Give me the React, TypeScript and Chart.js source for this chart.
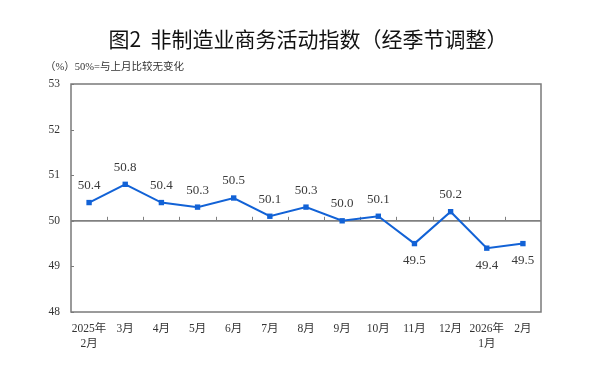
import React, { useEffect, useRef } from "react";
import { Chart, registerables } from "chart.js";

Chart.register(...registerables);

const categories: (string | string[])[] = [
  ["2025年", "2月"], "3月", "4月", "5月", "6月", "7月", "8月", "9月", "10月", "11月", "12月", ["2026年", "1月"], "2月",
];
const values: number[] = [50.4, 50.8, 50.4, 50.3, 50.5, 50.1, 50.3, 50.0, 50.1, 49.5, 50.2, 49.4, 49.5];
const labelBelow: boolean[] = [false, false, false, false, false, false, false, false, false, true, false, true, true];
const yTicks: number[] = [48, 49, 50, 51, 52, 53];
const titleText = "图2  非制造业商务活动指数（经季节调整）";
const subtitleText = "（%）50%=与上月比较无变化";

const SERIF = '"Liberation Serif", "Times New Roman", "Noto Sans CJK SC", serif';
const SANS = '"Noto Sans CJK SC", "Noto Sans", sans-serif';

const decorPlugin = {
  id: "decor",
  beforeDatasetsDraw(chart: any) {
    const { ctx, chartArea: a, scales } = chart;
    const y = scales.y;
    const x = scales.x;
    ctx.save();
    ctx.strokeStyle = "#7a7a7a";
    ctx.lineWidth = 1.5;
    ctx.strokeRect(a.left, a.top, a.right - a.left, a.bottom - a.top);
    ctx.lineWidth = 1;
    ctx.beginPath();
    yTicks.forEach((v) => {
      const py = Math.round(y.getPixelForValue(v)) + 0.5;
      ctx.moveTo(a.left, py);
      ctx.lineTo(a.left + 3, py);
    });
    ctx.stroke();
    const y50 = y.getPixelForValue(50);
    ctx.strokeStyle = "#808080";
    ctx.lineWidth = 1.8;
    ctx.beginPath();
    ctx.moveTo(a.left, y50);
    ctx.lineTo(a.right, y50);
    ctx.stroke();
    ctx.lineWidth = 1;
    ctx.beginPath();
    for (let i = 1; i < categories.length; i++) {
      const px = Math.round((x.getPixelForValue(i - 1) + x.getPixelForValue(i)) / 2) + 0.5;
      ctx.moveTo(px, y50);
      ctx.lineTo(px, y50 - 4);
    }
    ctx.stroke();
    ctx.restore();
  },
  afterDatasetsDraw(chart: any) {
    const { ctx } = chart;
    const meta = chart.getDatasetMeta(0);
    ctx.save();
    ctx.font = `13px ${SERIF}`;
    ctx.fillStyle = "#3a3a3a";
    ctx.textAlign = "center";
    ctx.textBaseline = "middle";
    meta.data.forEach((pt: any, i: number) => {
      const dy = labelBelow[i] ? 17 : -17;
      ctx.fillText(values[i].toFixed(1), pt.x, pt.y + dy);
    });
    ctx.fillStyle = "#111111";
    ctx.font = `21px ${SANS}`;
    ctx.textAlign = "center";
    ctx.fillText(titleText, 308, 39);
    ctx.fillStyle = "#333333";
    ctx.font = `10.5px ${SERIF}`;
    ctx.textAlign = "left";
    ctx.fillText(subtitleText, 45, 67);
    ctx.restore();
  },
};

export default function App() {
  const ref = useRef<HTMLCanvasElement>(null);
  useEffect(() => {
    const chart = new Chart(ref.current as HTMLCanvasElement, {
      type: "line",
      data: {
        labels: categories,
        datasets: [
          {
            data: values,
            borderColor: "#1262d6",
            backgroundColor: "#1262d6",
            borderWidth: 2,
            pointStyle: "rect",
            pointRadius: 3.8,
            pointBorderWidth: 0,
            tension: 0,
          },
        ],
      },
      options: {
        animation: false,
        responsive: false,
        maintainAspectRatio: false,
        layout: { padding: { left: 0, top: 84, right: 59, bottom: 0 } },
        plugins: { legend: { display: false }, tooltip: { enabled: false }, title: { display: false } },
        scales: {
          x: {
            type: "category",
            offset: true,
            grid: { display: false, drawTicks: false },
            border: { display: false },
            ticks: {
              color: "#333333",
              font: { family: SERIF, size: 11.5, lineHeight: 1.25 },
              padding: 10,
              maxRotation: 0,
              autoSkip: false,
            },
            afterFit: (s: any) => {
              s.height = 59;
            },
          },
          y: {
            min: 48,
            max: 53,
            afterBuildTicks: (s: any) => {
              s.ticks = yTicks.map((v) => ({ value: v }));
            },
            grid: { display: false, drawTicks: false },
            border: { display: false },
            ticks: {
              color: "#333333",
              font: { family: SERIF, size: 11.5 },
              padding: 11,
            },
            afterFit: (s: any) => {
              s.width = 71;
            },
          },
        },
      },
      plugins: [decorPlugin],
    });
    return () => chart.destroy();
  }, []);
  return (
    <div style={{ position: "fixed", left: 0, top: 0, width: 600, height: 371, background: "#fff" }}>
      <canvas ref={ref} width={600} height={371} style={{ width: 600, height: 371 }} />
    </div>
  );
}
